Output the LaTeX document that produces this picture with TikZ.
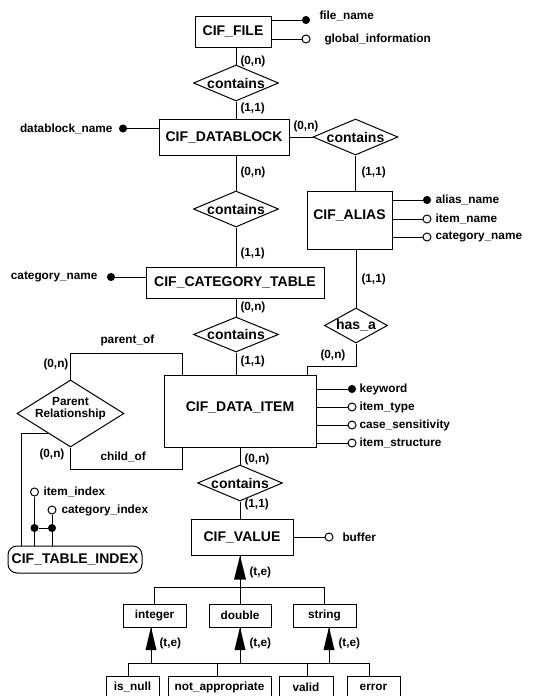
\documentclass[tikz,border=0pt]{standalone}
\usepackage{fontspec}
\setmainfont{Liberation Sans}
\usetikzlibrary{shapes.geometric,calc}
\tikzset{
  fsmall/.style={font=\bfseries\fontsize{11.8}{12}\selectfont},
  fbig/.style={font=\bfseries\fontsize{14}{15}\selectfont},
  ent/.style={draw, rectangle, inner sep=0pt, fbig},
  relship/.style={draw, diamond, inner sep=0pt},
  sub/.style={draw, rectangle, inner sep=0pt, fsmall, minimum height=23pt},
  card/.style={fsmall, inner sep=0pt, anchor=west},
  atxt/.style={fsmall, inner sep=0pt, anchor=west},
  kdot/.style={circle, draw, fill=black, minimum size=7pt, inner sep=0pt},
  odot/.style={circle, draw, fill=white, minimum size=8pt, inner sep=0pt},
}
\begin{document}
\begin{tikzpicture}[x=1pt, y=-1pt, line width=1pt]
\useasboundingbox (0,0) rectangle (552,696);

% entities
\node[ent, minimum width=76pt, minimum height=31pt] (file) at (233,31.5) {CIF\_FILE};
\node[ent, minimum width=130pt, minimum height=36pt] (db) at (224,137) {CIF\_DATABLOCK};
\node[ent, minimum width=85pt, minimum height=58pt, label={[fbig, yshift=5pt, name=aliastxt]center:CIF\_ALIAS}] (alias) at (349.5,220) {};
\node[ent, minimum width=178pt, minimum height=31pt] (cat) at (235,282.5) {CIF\_CATEGORY\_TABLE};
\node[ent, minimum width=152pt, minimum height=72pt, label={[fbig, yshift=4pt, name=itemtxt]center:CIF\_DATA\_ITEM}] (item) at (240,411) {};
\node[ent, minimum width=102pt, minimum height=36pt] (value) at (242,537) {CIF\_VALUE};
\node[ent, rounded corners=9pt, minimum width=134pt, minimum height=27pt] (tindex) at (75,559.5) {CIF\_TABLE\_INDEX};

% relationships
\node[relship, minimum width=85pt, minimum height=36pt, label={[fbig, name=c1t]center:contains}] (c1) at (236,83) {};
\node[relship, minimum width=85pt, minimum height=36pt, label={[fbig, name=c2t]center:contains}] (c2) at (355.5,137) {};
\node[relship, minimum width=85pt, minimum height=36pt, label={[fbig, name=c3t]center:contains}] (c3) at (236,209) {};
\node[relship, minimum width=85pt, minimum height=35pt, label={[fbig, name=c4t]center:contains}] (c4) at (236,334.5) {};
\node[relship, minimum width=85pt, minimum height=36pt, label={[fbig, name=c5t]center:contains}] (c5) at (240,483) {};
\node[relship, minimum width=63pt, minimum height=35pt, label={[fbig, name=hasat]center:has\_a}] (hasa) at (356,325.5) {};
\node[relship, minimum width=107pt, minimum height=67pt, label={[fsmall, align=center, yshift=5pt, name=prelt]center:Parent\\Relationship}] (prel) at (70.5,413.5) {};

% subtypes
\node[sub, minimum width=63pt] (int) at (154.5,615.5) {integer};
\node[sub, minimum width=62pt] (dbl) at (240,615.5) {double};
\node[sub, minimum width=63pt] (str) at (324.5,615.5) {string};
\node[sub, minimum width=53pt, minimum height=22pt] (isnull) at (132.5,687) {is\_null};
\node[sub, minimum width=103pt, minimum height=22pt] (na) at (219.5,687) {not\_appropriate};
\node[sub, minimum width=54pt, minimum height=22pt] (valid) at (306,687) {valid};
\node[sub, minimum width=53pt, minimum height=22pt] (error) at (373.5,687) {error};

% main connectors
\draw (file.south -| c1) -- (c1.north);
\draw (c1.south) -- (c1.south |- db.north);
\draw (db.east) -- (c2.west);
\draw (c2.south) -- (c2.south |- alias.north);
\draw (db.south -| c3) -- (c3.north);
\draw (c3.south) -- (c3.south |- cat.north);
\draw (cat.south -| c4) -- (c4.north);
\draw (c4.south) -- (c4.south |- item.north);
\draw (alias.south -| hasa) -- (hasa.north);
\coordinate (hk) at (307,366);
\draw (hasa.south) |- (hk) -- (hk |- item.north);
\coordinate (pk) at (182,353);
\draw (pk |- item.north) -- (pk) -| (prel.north);
\coordinate (ck) at (182,469);
\draw (prel.south) |- (ck) -- (ck |- item.south);
\draw (item.south -| c5) -- (c5.north);
\draw (c5.south) -- (c5.south |- value.north);
\coordinate (pe) at ($(prel.west)!0.58!(prel.south)$);
\coordinate (tk) at (21,433);
\draw (pe) -- (pe -| tk) -- (tk |- tindex.north);

% attributes
\node[kdot] (fnd) at (306,20) {};
\node[atxt] (fnt) at (319,16) {file\_name};
\draw (file.east |- fnd) -- (fnd);
\node[odot] (gid) at (306,39) {};
\node[atxt] (git) at (324,39) {global\_information};
\draw (file.east |- gid) -- (gid);

\node[kdot] (dbd) at (123,128.5) {};
\node[atxt, anchor=east] (dbt) at (113,129) {datablock\_name};
\draw (dbd) -- (dbd -| db.west);

\node[kdot] (cnd) at (111,277) {};
\node[atxt, anchor=east] (cnt) at (98,277) {category\_name};
\draw (cnd) -- (cnd -| cat.west);

\node[kdot] (and) at (427,200) {};
\node[atxt] (ant) at (435,200) {alias\_name};
\draw (alias.east |- and) -- (and);
\node[odot] (ind) at (427,219) {};
\node[atxt] (int2) at (435,219) {item\_name};
\draw (alias.east |- ind) -- (ind);
\node[odot] (acd) at (427,237) {};
\node[atxt] (act) at (435,237) {category\_name};
\draw (alias.east |- acd) -- (acd);

\node[kdot] (kwd) at (352,389) {};
\node[atxt] (kwt) at (359,389) {keyword};
\draw (item.east |- kwd) -- (kwd);
\node[odot] (itd) at (352,407) {};
\node[atxt] (itt) at (359,407) {item\_type};
\draw (item.east |- itd) -- (itd);
\node[odot] (csd) at (352,425) {};
\node[atxt] (cst) at (359,425) {case\_sensitivity};
\draw (item.east |- csd) -- (csd);
\node[odot] (isd) at (352,443) {};
\node[atxt] (ist) at (359,443) {item\_structure};
\draw (item.east |- isd) -- (isd);

\node[odot] (bfd) at (329,537) {};
\node[atxt] (bft) at (342,537) {buffer};
\draw (value.east |- bfd) -- (bfd);

% table index keys
\node[odot] (iid) at (34.5,492) {};
\node[atxt] (iit) at (43,492) {item\_index};
\node[odot] (cid) at (52,510) {};
\node[atxt] (cit) at (61,510) {category\_index};
\draw (iid.south) -- (iid |- tindex.north);
\draw (cid.south) -- (cid |- tindex.north);
\node[kdot] (j1) at (34.5,528) {};
\node[kdot] (j2) at (52,528) {};
\draw (j1) -- (j2);

% ISA hierarchy
\coordinate (v0) at (value.south -| c5);
\fill (v0) -- ++(-6,24) -- ++(12,0) -- cycle;
\coordinate (vb) at ($(v0)+(0,32)$);
\draw (v0) -- (vb);
\draw (int.north) |- (vb) -| (str.north);
\draw (vb) -- (dbl.north);

\coordinate (i0) at (151,627);
\coordinate (d0) at (240,627);
\coordinate (s0) at (329,627);
\coordinate (hl) at (128,663);
\coordinate (h2) at (217,663);
\coordinate (h3) at (307,663);
\coordinate (hr) at (369,663);
\fill (i0) -- ++(-5.5,23) -- ++(11,0) -- cycle;
\fill (d0) -- ++(-5.5,23) -- ++(11,0) -- cycle;
\fill (s0) -- ++(-5.5,23) -- ++(11,0) -- cycle;
\draw (i0) -- (i0 |- hl);
\draw (d0) -- (d0 |- hl);
\draw (s0) -- (s0 |- hl);
\draw (hl |- isnull.north) -- (hl) -- (hr) -- (hr |- error.north);
\draw (h2) -- (h2 |- na.north);
\draw (h3) -- (h3 |- valid.north);

% cardinalities
\node[card] (k1) at (240,61) {(0,n)};
\node[card] (k2) at (240,108) {(1,1)};
\node[card] (k3) at (293,126) {(0,n)};
\node[card] (k4) at (361,172) {(1,1)};
\node[card] (k5) at (240,172) {(0,n)};
\node[card] (k6) at (240,253) {(1,1)};
\node[card] (k7) at (240,307) {(0,n)};
\node[card] (k8) at (361,279) {(1,1)};
\node[card] (k9) at (240,361) {(1,1)};
\node[card] (k10) at (320,355) {(0,n)};
\node[card] (k11) at (43,364) {(0,n)};
\node[card] (k12) at (100,340) {parent\_of};
\node[card] (k13) at (39,454) {(0,n)};
\node[card] (k14) at (100,457) {child\_of};
\node[card] (k15) at (244,459) {(0,n)};
\node[card] (k16) at (244,504) {(1,1)};
\node[card] (k17) at (249,572) {(t,e)};
\node[card] (k18) at (159,643) {(t,e)};
\node[card] (k19) at (249,643) {(t,e)};
\node[card] (k20) at (338,643) {(t,e)};
\end{tikzpicture}
\end{document}
